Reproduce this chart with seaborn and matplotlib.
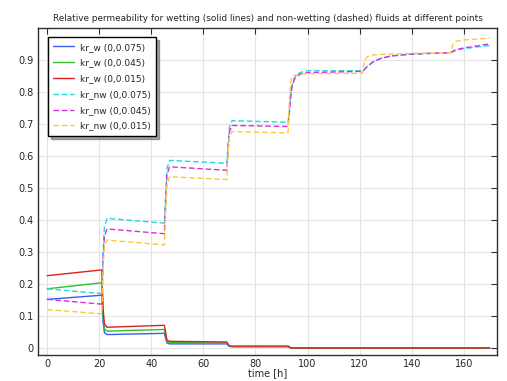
import pandas as pd
import matplotlib
matplotlib.use("Agg")
import matplotlib.pyplot as plt
import seaborn as sns

# -----------------------
# Data
# -----------------------

t = [0, 21, 21.5, 22, 23, 45, 45.5, 46, 47, 69, 69.5, 70, 71, 92.5, 93, 93.5,
     94, 95, 97, 100, 121, 121.5, 122, 123, 125, 128, 132, 140, 155, 155.5,
     156, 157, 160, 170]

krw_075 = [0.152, 0.165, 0.08, 0.048, 0.042, 0.046, 0.03, 0.016, 0.013, 0.013,
           0.008, 0.005, 0.004, 0.004, 0.002, 0.001, 0, 0, 0, 0, 0, 0, 0, 0,
           0, 0, 0, 0, 0, 0, 0, 0, 0, 0]
krw_045 = [0.185, 0.204, 0.10, 0.06, 0.053, 0.058, 0.04, 0.02, 0.017, 0.016,
           0.01, 0.006, 0.005, 0.005, 0.003, 0.001, 0, 0, 0, 0, 0, 0, 0, 0,
           0, 0, 0, 0, 0, 0, 0, 0, 0, 0]
krw_015 = [0.226, 0.244, 0.12, 0.075, 0.065, 0.071, 0.05, 0.025, 0.021, 0.019,
           0.012, 0.007, 0.006, 0.006, 0.004, 0.001, 0, 0, 0, 0, 0, 0, 0, 0,
           0, 0, 0, 0, 0, 0, 0, 0, 0, 0]
krnw_075 = [0.185, 0.17, 0.30, 0.38, 0.405, 0.39, 0.48, 0.56, 0.586, 0.577,
            0.64, 0.69, 0.71, 0.705, 0.74, 0.79, 0.82, 0.845, 0.86, 0.866,
            0.866, 0.868, 0.872, 0.88, 0.893, 0.904, 0.912, 0.918, 0.922,
            0.924, 0.926, 0.93, 0.935, 0.945]
krnw_045 = [0.152, 0.137, 0.28, 0.35, 0.372, 0.357, 0.45, 0.54, 0.566, 0.555,
            0.62, 0.675, 0.695, 0.692, 0.73, 0.78, 0.815, 0.84, 0.855, 0.86,
            0.864, 0.866, 0.871, 0.879, 0.893, 0.904, 0.912, 0.918, 0.923,
            0.925, 0.928, 0.932, 0.937, 0.95]
krnw_015 = [0.12, 0.107, 0.25, 0.32, 0.337, 0.322, 0.42, 0.51, 0.535, 0.526,
            0.61, 0.66, 0.676, 0.672, 0.77, 0.83, 0.845, 0.852, 0.855, 0.857,
            0.858, 0.88, 0.9, 0.91, 0.915, 0.917, 0.918, 0.92, 0.922, 0.94,
            0.952, 0.958, 0.962, 0.968]

labels = ["kr_w (0,0.075)", "kr_w (0,0.045)", "kr_w (0,0.015)",
          "kr_nw (0,0.075)", "kr_nw (0,0.045)", "kr_nw (0,0.015)"]
series = [krw_075, krw_045, krw_015, krnw_075, krnw_045, krnw_015]
colors = ["#3a5cf0", "#30c030", "#e02020", "#20d8e0", "#d830e0", "#ffc838"]

# -----------------------
# Plot
# -----------------------

sns.set_style("whitegrid", {"grid.color": "#e4e4e4", "axes.edgecolor": "#303030"})
plt.rcParams["font.family"] = ["DejaVu Sans"]

fig = plt.figure(figsize=(5.07, 3.81), dpi=100)
ax = fig.add_axes([0.075, 0.068, 0.905, 0.859])

for i, (lab, vals, col) in enumerate(zip(labels, series, colors)):
    df = pd.DataFrame({"t": t, "kr": vals})
    ls = "-" if i < 3 else (0, (4, 2))
    sns.lineplot(data=df, x="t", y="kr", ax=ax, color=col, linewidth=1.0,
                 linestyle=ls, label=lab)

ax.set_xlim(-3.5, 172.7)
ax.set_ylim(-0.022, 1.0)
ax.set_xticks(range(0, 161, 20))
ax.set_yticks([i / 10 for i in range(10)])
ax.set_yticklabels(["0"] + [f"{i / 10:g}" for i in range(1, 10)])
ax.tick_params(direction="in", length=4, width=0.8, labelsize=7,
               top=True, right=True, color="#303030", pad=3)
for s in ax.spines.values():
    s.set_linewidth(1.0)
ax.grid(True, linewidth=0.8)

ax.set_xlabel("time [h]", fontsize=7, labelpad=-1)
ax.set_ylabel("")
ax.set_title("Relative permeability for wetting (solid lines) and non-wetting (dashed) fluids at different points",
             fontsize=6.4, pad=5)

leg = ax.legend(loc="upper left", bbox_to_anchor=(0.012, 0.985), fontsize=6.5,
                fancybox=False, shadow=True, framealpha=1, edgecolor="black",
                handlelength=2.3, handletextpad=0.6, borderpad=0.6,
                labelspacing=0.75)
leg.get_frame().set_linewidth(1.0)

fig.savefig("out.png", dpi=100)
